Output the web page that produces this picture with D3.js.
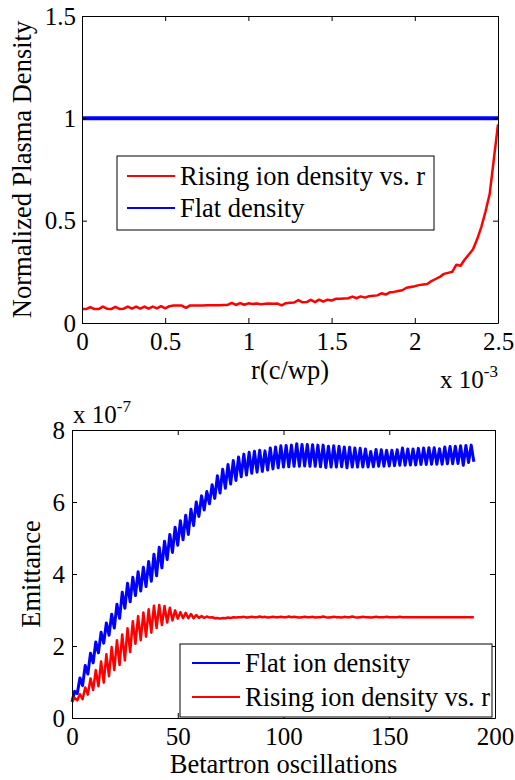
<!DOCTYPE html>
<html>
<head>
<meta charset="utf-8">
<script src="https://cdn.jsdelivr.net/npm/d3@7"></script>
<style>
  body { margin: 0; background: #fff; }
  svg text { font-family: "Liberation Serif", "Times New Roman", serif; fill: #000; }
</style>
</head>
<body>
<svg id="chart" width="515" height="780"></svg>
<script>
// ---- top panel: density profile vs r (r given in units of 1e-3 c/wp) ----
const rStep = 0.025;
const risingDensity = [
  0.068, 0.068, 0.078, 0.068, 0.068, 0.080, 0.070, 0.068, 0.079, 0.069,
  0.070, 0.080, 0.070, 0.080, 0.070, 0.080, 0.070, 0.080, 0.071, 0.082,
  0.072, 0.082, 0.085, 0.085, 0.085, 0.074, 0.086, 0.086, 0.086, 0.086,
  0.087, 0.087, 0.087, 0.087, 0.088, 0.088, 0.098, 0.088, 0.097, 0.089,
  0.096, 0.093, 0.095, 0.092, 0.094, 0.095, 0.094, 0.095, 0.086, 0.097,
  0.099, 0.100, 0.112, 0.101, 0.102, 0.113, 0.102, 0.114, 0.104, 0.114,
  0.110, 0.118, 0.119, 0.120, 0.121, 0.129, 0.121, 0.130, 0.124, 0.131,
  0.133, 0.135, 0.145, 0.139, 0.150, 0.152, 0.156, 0.160, 0.172, 0.176,
  0.180, 0.185, 0.188, 0.190, 0.205, 0.215, 0.225, 0.240, 0.245, 0.250,
  0.285, 0.280, 0.310, 0.335, 0.360, 0.410, 0.470, 0.545, 0.630, 0.800,
  0.970
];
const flatR = [0, 2.5];
const flatDensity = [1, 1];
const rTicks = [0, 0.5, 1, 1.5, 2, 2.5];
const densityTicks = [0, 0.5, 1, 1.5];

// ---- bottom panel: emittance (units of 1e-7) vs betatron oscillations ----
const oscStep = 1.25;
const flatEmittance = [
  0.45, 0.74, 0.68, 1.11, 0.90, 1.46, 1.22, 1.80, 1.53, 2.11,
  1.81, 2.38, 2.08, 2.64, 2.30, 2.88, 2.50, 3.16, 2.77, 3.49,
  3.05, 3.74, 3.23, 3.91, 3.40, 4.06, 3.53, 4.19, 3.65, 4.35,
  3.80, 4.55, 3.95, 4.74, 4.17, 4.91, 4.40, 5.10, 4.60, 5.30,
  4.80, 5.48, 4.95, 5.63, 5.10, 5.80, 5.35, 6.00, 5.60, 6.17,
  5.78, 6.29, 5.95, 6.48, 6.10, 6.73, 6.25, 6.91, 6.38, 7.04,
  6.50, 7.15, 6.60, 7.25, 6.70, 7.33, 6.75, 7.38, 6.80, 7.41,
  6.83, 7.44, 6.85, 7.42, 6.89, 7.50, 6.92, 7.53, 6.95, 7.56,
  6.97, 7.57, 6.98, 7.58, 6.99, 7.62, 6.99, 7.60, 7.00, 7.60,
  6.99, 7.59, 6.99, 7.58, 6.98, 7.58, 6.96, 7.55, 6.97, 7.56,
  6.97, 7.55, 6.98, 7.53, 6.95, 7.52, 6.97, 7.50, 6.97, 7.49,
  6.97, 7.47, 6.97, 7.40, 6.98, 7.46, 6.99, 7.45, 6.99, 7.44,
  7.00, 7.44, 7.01, 7.45, 7.02, 7.50, 7.02, 7.47, 7.03, 7.47,
  7.03, 7.49, 7.04, 7.50, 7.04, 7.51, 7.05, 7.51, 7.05, 7.48,
  7.05, 7.53, 7.06, 7.54, 7.06, 7.55, 7.07, 7.56, 7.02, 7.57,
  7.10, 7.58, 7.12
];
const risingEmittance = [
  0.45, 0.56, 0.49, 0.66, 0.52, 0.85, 0.65, 1.10, 0.78, 1.33,
  0.88, 1.57, 0.98, 1.77, 1.16, 1.97, 1.33, 2.16, 1.47, 2.32,
  1.60, 2.49, 1.83, 2.69, 2.06, 2.83, 2.16, 2.93, 2.26, 3.02,
  2.37, 3.12, 2.50, 3.14, 2.58, 3.11, 2.65, 3.06, 2.71, 2.99,
  2.76, 2.94, 2.77, 2.92, 2.77, 2.89, 2.77, 2.86, 2.78, 2.83,
  2.78, 2.82, 2.79, 2.80, 2.77, 2.78, 2.76, 2.78, 2.77, 2.79,
  2.78, 2.80, 2.79, 2.80, 2.80, 2.81, 2.79, 2.80, 2.81, 2.80,
  2.80, 2.82, 2.80, 2.81, 2.79, 2.80, 2.81, 2.80, 2.80, 2.81,
  2.80, 2.80, 2.82, 2.80, 2.81, 2.80, 2.79, 2.80, 2.81, 2.80,
  2.80, 2.81, 2.79, 2.80, 2.80, 2.82, 2.80, 2.79, 2.80, 2.81,
  2.80, 2.80, 2.79, 2.81, 2.80, 2.80, 2.82, 2.80, 2.79, 2.80,
  2.81, 2.80, 2.80, 2.79, 2.80, 2.81, 2.80, 2.80, 2.80, 2.81,
  2.80, 2.80, 2.80, 2.80, 2.81, 2.80, 2.80, 2.80, 2.80, 2.80,
  2.80, 2.80, 2.80, 2.80, 2.80, 2.80, 2.80, 2.80, 2.80, 2.80,
  2.80, 2.80, 2.80, 2.80, 2.80, 2.80, 2.80, 2.80, 2.80, 2.80,
  2.80, 2.80, 2.80
];
const oscTicks = [0, 50, 100, 150, 200];
const emitTicks = [0, 2, 4, 6, 8];

const serif = '"Liberation Serif", "Times New Roman", serif';
const svg = d3.select('#chart').attr('font-family', serif);
const tickFont = 25;
const labelFont = 26.5;

// box with inward ticks on all four sides, matlab style
function drawFrame(g, x, y, xTicks, yTicks, w, h, xPad, yPad) {
    const fmt = d => d;
    const parts = [
        [d3.axisBottom(x).tickValues(xTicks).tickFormat(fmt).tickPadding(xPad), `translate(0,${h})`],
        [d3.axisTop(x).tickValues(xTicks).tickFormat(''), null],
        [d3.axisLeft(y).tickValues(yTicks).tickFormat(fmt).tickPadding(yPad), null],
        [d3.axisRight(y).tickValues(yTicks).tickFormat(''), `translate(${w},0)`]
    ];
    parts.forEach(([ax, tr]) => {
        const a = g.append('g').call(ax.tickSizeInner(-5).tickSizeOuter(0));
        if (tr) a.attr('transform', tr);
        a.attr('font-size', tickFont).attr('font-family', serif);
        a.selectAll('.tick text').attr('font-family', serif);
        a.select('.domain').attr('stroke', '#000').attr('stroke-width', 1);
        a.selectAll('.tick line').attr('stroke', '#000');
    });
}

function drawLegend(g, box, entries) {
    const lg = g.append('g').attr('transform', `translate(${box.x},${box.y})`);
    lg.append('rect')
        .attr('width', box.w).attr('height', box.h)
        .attr('fill', '#fff').attr('stroke', '#000').attr('stroke-width', 1);
    entries.forEach((e, i) => {
        const cy = box.first + i * box.gap;
        lg.append('line')
            .attr('x1', box.lineX).attr('x2', box.lineX + 48)
            .attr('y1', cy).attr('y2', cy)
            .attr('stroke', e.color).attr('stroke-width', 2);
        lg.append('text')
            .attr('x', box.lineX + 53).attr('y', cy + 9)
            .attr('font-size', labelFont)
            .text(e.label);
    });
}

// ---------- top panel ----------
{
    const m = { left: 82, top: 16 }, w = 416, h = 307;
    const g = svg.append('g').attr('transform', `translate(${m.left},${m.top})`);
    const x = d3.scaleLinear().domain([0, 2.5]).range([0, w]);
    const y = d3.scaleLinear().domain([0, 1.5]).range([h, 0]);

    const risingLine = d3.line().x((d, i) => x(i * rStep)).y(d => y(d));
    const flatLine = d3.line().x((d, i) => x(flatR[i])).y(d => y(d));

    g.append('path').datum(risingDensity)
        .attr('d', risingLine).attr('fill', 'none')
        .attr('stroke', '#ff0000').attr('stroke-width', 2.5).attr('stroke-linejoin', 'round');
    g.append('path').datum(flatDensity)
        .attr('d', flatLine).attr('fill', 'none')
        .attr('stroke', '#0000ff').attr('stroke-width', 4);

    drawFrame(g, x, y, rTicks, densityTicks, w, h, 9, 6);

    drawLegend(g, { x: 35, y: 140, w: 317, h: 74, first: 20, gap: 32, lineX: 10 }, [
        { label: 'Rising ion density vs. r', color: '#ff0000' },
        { label: 'Flat density', color: '#0000ff' }
    ]);

    g.append('text')
        .attr('transform', `translate(-51,${h / 2}) rotate(-90)`)
        .attr('text-anchor', 'middle').attr('font-size', labelFont)
        .text('Normalized Plasma Density');
    g.append('text')
        .attr('x', w / 2).attr('y', h + 56)
        .attr('text-anchor', 'middle').attr('font-size', labelFont)
        .text('r(c/wp)');

    const ex = g.append('text')
        .attr('x', w).attr('y', h + 65)
        .attr('text-anchor', 'end').attr('font-size', tickFont);
    ex.append('tspan').text('x 10');
    ex.append('tspan').attr('dy', -11).attr('font-size', 17).text('-3');
}

// ---------- bottom panel ----------
{
    const m = { left: 72, top: 430 }, w = 423, h = 288;
    const g = svg.append('g').attr('transform', `translate(${m.left},${m.top})`);
    const x = d3.scaleLinear().domain([0, 200]).range([0, w]);
    const y = d3.scaleLinear().domain([0, 8]).range([h, 0]);

    const line = d3.line().x((d, i) => x(i * oscStep)).y(d => y(d));

    g.append('path').datum(flatEmittance)
        .attr('d', line).attr('fill', 'none')
        .attr('stroke', '#0000ff').attr('stroke-width', 3).attr('stroke-linejoin', 'round');
    g.append('path').datum(risingEmittance)
        .attr('d', line).attr('fill', 'none')
        .attr('stroke', '#ff0000').attr('stroke-width', 2.5).attr('stroke-linejoin', 'round');

    drawFrame(g, x, y, oscTicks, emitTicks, w, h, 9, 7);

    drawLegend(g, { x: 108, y: 214, w: 312, h: 73, first: 19, gap: 34, lineX: 12 }, [
        { label: 'Flat ion density', color: '#0000ff' },
        { label: 'Rising ion density vs. r', color: '#ff0000' }
    ]);

    g.append('text')
        .attr('transform', `translate(-32,${h / 2}) rotate(-90)`)
        .attr('text-anchor', 'middle').attr('font-size', labelFont)
        .text('Emittance');
    g.append('text')
        .attr('x', w / 2).attr('y', h + 55)
        .attr('text-anchor', 'middle').attr('font-size', labelFont)
        .text('Betartron oscillations');

    const ex = g.append('text')
        .attr('x', 1).attr('y', -7)
        .attr('text-anchor', 'start').attr('font-size', tickFont);
    ex.append('tspan').text('x 10');
    ex.append('tspan').attr('dy', -11).attr('font-size', 17).text('-7');
}
</script>
</body>
</html>
